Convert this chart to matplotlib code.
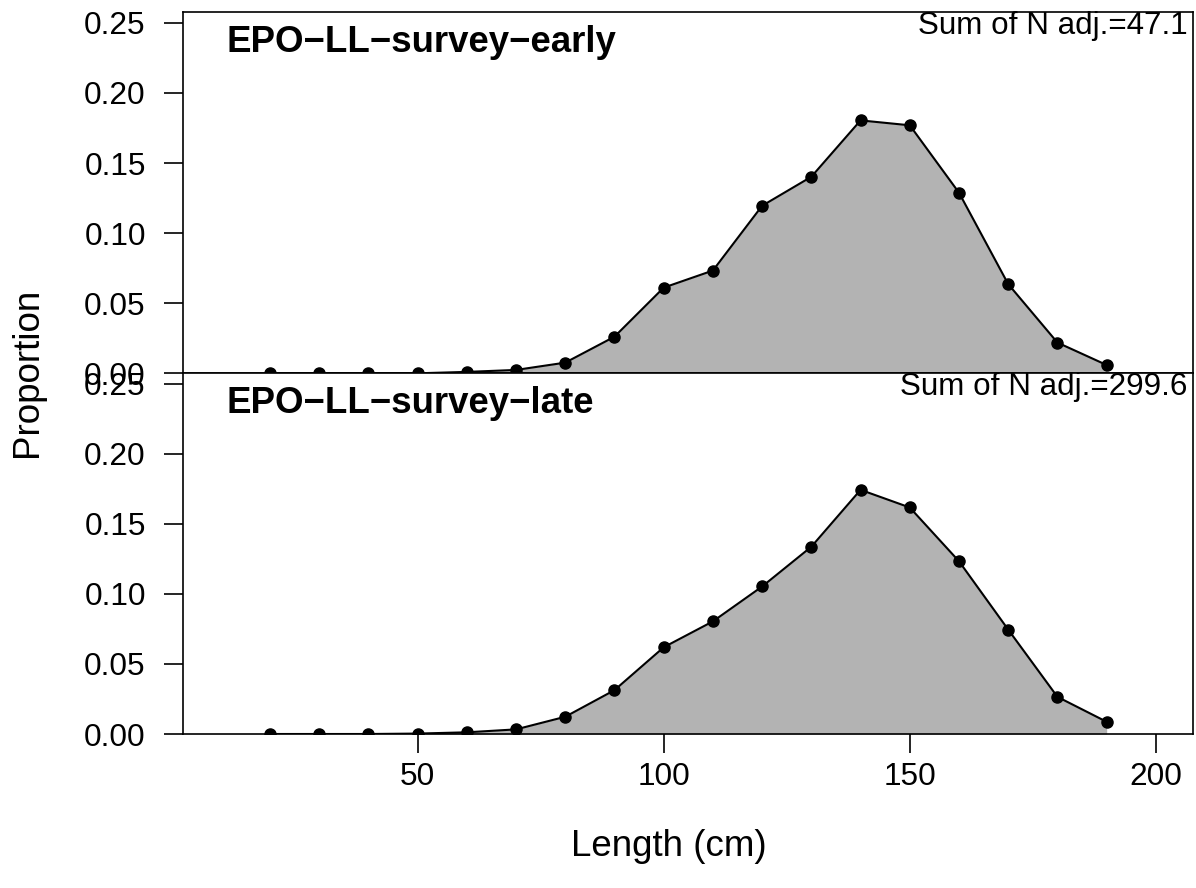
import matplotlib
matplotlib.use("Agg")
import matplotlib.pyplot as plt
from matplotlib.ticker import FixedLocator, FuncFormatter

lengths = [20, 30, 40, 50, 60, 70, 80, 90, 100, 110, 120, 130, 140, 150, 160, 170, 180, 190]
early = [0, 0, 0, 0, 0.0010, 0.0024, 0.0076, 0.0261, 0.0611, 0.0733, 0.1195, 0.1402,
         0.1804, 0.1769, 0.1288, 0.0636, 0.0219, 0.0059]
late = [0, 0, 0, 0.0003, 0.0012, 0.0033, 0.0123, 0.0313, 0.0619, 0.0804, 0.1053, 0.1337,
        0.1743, 0.1617, 0.1233, 0.0745, 0.0265, 0.0087]
titles = ["EPO\u2212LL\u2212survey\u2212early", "EPO\u2212LL\u2212survey\u2212late"]
sums = ["Sum of N adj.=47.1", "Sum of N adj.=299.6"]
yticks = [0.00, 0.05, 0.10, 0.15, 0.20, 0.25]
xticks = [50, 100, 150, 200]

plt.rcParams['font.family'] = ['Liberation Sans', 'DejaVu Sans']

W, H = 1196, 888
fig = plt.figure(figsize=(W / 100, H / 100), dpi=100)

left = 183.3 / W
width = (1193.3 - 183.3) / W
panels = [(12.3, 373.3), (373.3, 734.0)]
series = [early, late]

for i, ((top_px, bot_px), vals) in enumerate(zip(panels, series)):
    ax = fig.add_axes([left, 1 - bot_px / H, width, (bot_px - top_px) / H])
    ax.fill_between(lengths, vals, 0, color='#b3b3b3', linewidth=0, zorder=1)
    ax.plot(lengths, vals, color='black', linewidth=1.5, marker='o',
            markersize=8, zorder=3)
    ax.set_xlim(2.4, 207.6)
    ax.set_ylim(0, 0.2575)
    ax.yaxis.set_major_locator(FixedLocator(yticks))
    ax.yaxis.set_major_formatter(FuncFormatter(lambda v, p: f"{v:.2f}"))
    ax.tick_params(axis='y', direction='out', length=14, width=1.2,
                   labelsize=22.8, pad=13)
    if i == 1:
        ax.xaxis.set_major_locator(FixedLocator(xticks))
        ax.tick_params(axis='x', direction='out', length=14, width=1.2,
                       labelsize=22.8, pad=6)
    else:
        ax.set_xticks([])
    for s in ax.spines.values():
        s.set_linewidth(1.2)
    ph = bot_px - top_px
    ax.text(0.0423, 1 - 40 / ph, titles[i], transform=ax.transAxes,
            fontsize=26.4, fontweight='bold', ha='left', va='baseline')
    ax.text(0.994, 1 - 21.5 / ph, sums[i], transform=ax.transAxes,
            fontsize=22.6, ha='right', va='baseline')

fig.text(27 / W, 1 - 372 / H, "Proportion", rotation=90, fontsize=26.5,
         ha='center', va='center')
fig.text(669 / W, 1 - 846 / H, "Length (cm)", fontsize=26.5,
         ha='center', va='center')

fig.savefig("out.png", dpi=100)
